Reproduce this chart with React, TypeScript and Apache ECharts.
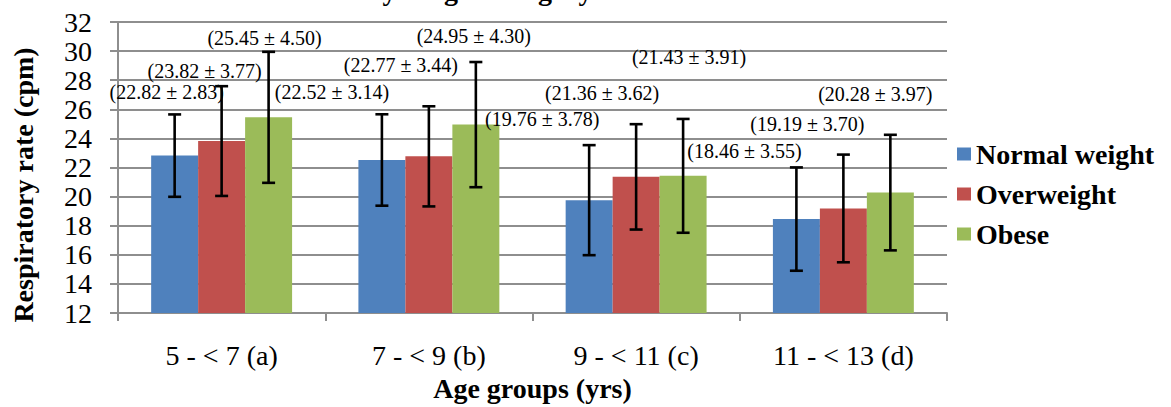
import React, { useEffect, useRef } from "react";
import * as echarts from "echarts";

// Age groups on the category axis
const categories = ["5 - < 7 (a)", "7 - < 9 (b)", "9 - < 11 (c)", "11 - < 13 (d)"];
const groupNames = ["Normal weight", "Overweight", "Obese"];

// Mean respiratory rate (cpm) and standard deviation per age group
const normalMean = [22.82, 22.52, 19.76, 18.46];
const normalSd = [2.83, 3.14, 3.78, 3.55];
const overweightMean = [23.82, 22.77, 21.36, 19.19];
const overweightSd = [3.77, 3.44, 3.62, 3.7];
const obeseMean = [25.45, 24.95, 21.43, 20.28];
const obeseSd = [4.5, 4.3, 3.91, 3.97];

// Value axis range
const yMin = 12;
const yMax = 32;
const yStep = 2;

const colors = ["#4F81BD", "#C0504D", "#9BBB59"];
const serif = "'Times New Roman', 'Liberation Serif', serif";

// Hand-placed value labels: horizontal shift from the bar centre and lift above the whisker top (px)
const labelShiftX = [
  [-8, -50, -47, -52],
  [-17, -28, -34, -36],
  [-4, -2, 6, -15],
];
const labelLift = [
  [22, 22, 26, 16],
  [15, 41, 31, 31],
  [14, 26, 62, 41],
];

const CATEGORY_GAP = 0.32;

function fmt(v: number) {
  return v.toFixed(2);
}

export default function App() {
  const ref = useRef<HTMLDivElement>(null);

  useEffect(() => {
    if (!ref.current) return;
    const chart = echarts.init(ref.current, null, { renderer: "svg" });

    const means = [normalMean, overweightMean, obeseMean];
    const sds = [normalSd, overweightSd, obeseSd];

    const barSeries = groupNames.map((name, i) => ({
      name,
      type: "bar",
      data: means[i],
      barGap: "0%",
      barCategoryGap: `${CATEGORY_GAP * 100}%`,
      itemStyle: { color: colors[i] },
      z: 2,
    }));

    // Mean ± SD whiskers with their value labels, drawn over each bar
    const errorSeries = groupNames.map((name, i) => ({
      name: `${name} SD`,
      type: "custom",
      coordinateSystem: "cartesian2d",
      encode: { x: 0, y: 1 },
      z: 5,
      data: categories.map((_, j) => [j, means[i][j], sds[i][j]]),
      renderItem: (params: any, api: any) => {
        const j = api.value(0);
        const mean = api.value(1);
        const sd = api.value(2);
        const catW = api.size([1, 0])[0];
        const barW = (catW * (1 - CATEGORY_GAP)) / 3;
        const c = api.coord([j, mean]);
        const x = c[0] - 1.5 * barW + (i + 0.5) * barW;
        const yTop = api.coord([j, mean + sd])[1];
        const yBot = api.coord([j, mean - sd])[1];
        const capHalf = 6.5;
        const stroke = { stroke: "#000", lineWidth: 2.6 };
        return {
          type: "group",
          children: [
            { type: "line", shape: { x1: x, y1: yTop, x2: x, y2: yBot }, style: stroke },
            { type: "line", shape: { x1: x - capHalf, y1: yTop, x2: x + capHalf, y2: yTop }, style: stroke },
            { type: "line", shape: { x1: x - capHalf, y1: yBot, x2: x + capHalf, y2: yBot }, style: stroke },
            {
              type: "text",
              x: x + labelShiftX[i][j],
              y: yTop - labelLift[i][j],
              style: {
                text: `(${fmt(mean)} ± ${fmt(sd)})`,
                fill: "#000",
                font: `20px ${serif}`,
                textAlign: "center",
                textVerticalAlign: "middle",
                align: "center",
                verticalAlign: "middle",
              },
            },
          ],
        };
      },
    }));

    const gridColor = "#8e8e8e";

    chart.setOption({
      animation: false,
      backgroundColor: "#fff",
      grid: { left: 118, right: 224, top: 22, bottom: 83, containLabel: false },
      legend: {
        data: groupNames,
        orient: "vertical",
        left: 957,
        top: 140,
        padding: 0,
        itemWidth: 14,
        itemHeight: 13,
        itemGap: 12,
        icon: "rect",
        textStyle: {
          fontFamily: serif,
          fontWeight: "bold",
          fontSize: 28,
          lineHeight: 28,
          color: "#000",
        },
      },
      xAxis: {
        type: "category",
        data: categories,
        name: "Age groups (yrs)",
        nameLocation: "middle",
        nameGap: 55,
        nameTextStyle: { fontFamily: serif, fontWeight: "bold", fontSize: 28, color: "#000" },
        axisLine: { show: true, lineStyle: { color: gridColor, width: 2 } },
        axisTick: { show: true, length: 8, lineStyle: { color: gridColor, width: 2 } },
        axisLabel: { margin: 28, fontFamily: serif, fontSize: 28, color: "#000" },
      },
      yAxis: {
        type: "value",
        min: yMin,
        max: yMax,
        interval: yStep,
        axisLine: { show: true, lineStyle: { color: gridColor, width: 2 } },
        axisTick: { show: true, length: 8, lineStyle: { color: gridColor, width: 2 } },
        axisLabel: { margin: 26, fontFamily: serif, fontSize: 28, color: "#000" },
        splitLine: { show: true, lineStyle: { color: gridColor, width: 2 } },
      },
      graphic: [
        {
          // Chart heading, only its lowest strokes fall inside the canvas
          type: "text",
          x: 367,
          y: -10,
          style: {
            text: "by weight category",
            font: `bold 28px ${serif}`,
            fill: "#000",
            textAlign: "left",
            textVerticalAlign: "middle",
            align: "left",
            verticalAlign: "middle",
          },
        },
        {
          type: "text",
          x: 23,
          y: 185,
          rotation: Math.PI / 2,
          style: {
            text: "Respiratory rate (cpm)",
            font: `bold 28px ${serif}`,
            fill: "#000",
            textAlign: "center",
            textVerticalAlign: "middle",
            align: "center",
            verticalAlign: "middle",
          },
        },
      ],
      series: [...barSeries, ...errorSeries],
    });

    return () => chart.dispose();
  }, []);

  return <div ref={ref} style={{ width: 1171, height: 407, position: "absolute", left: 0, top: 0 }} />;
}
